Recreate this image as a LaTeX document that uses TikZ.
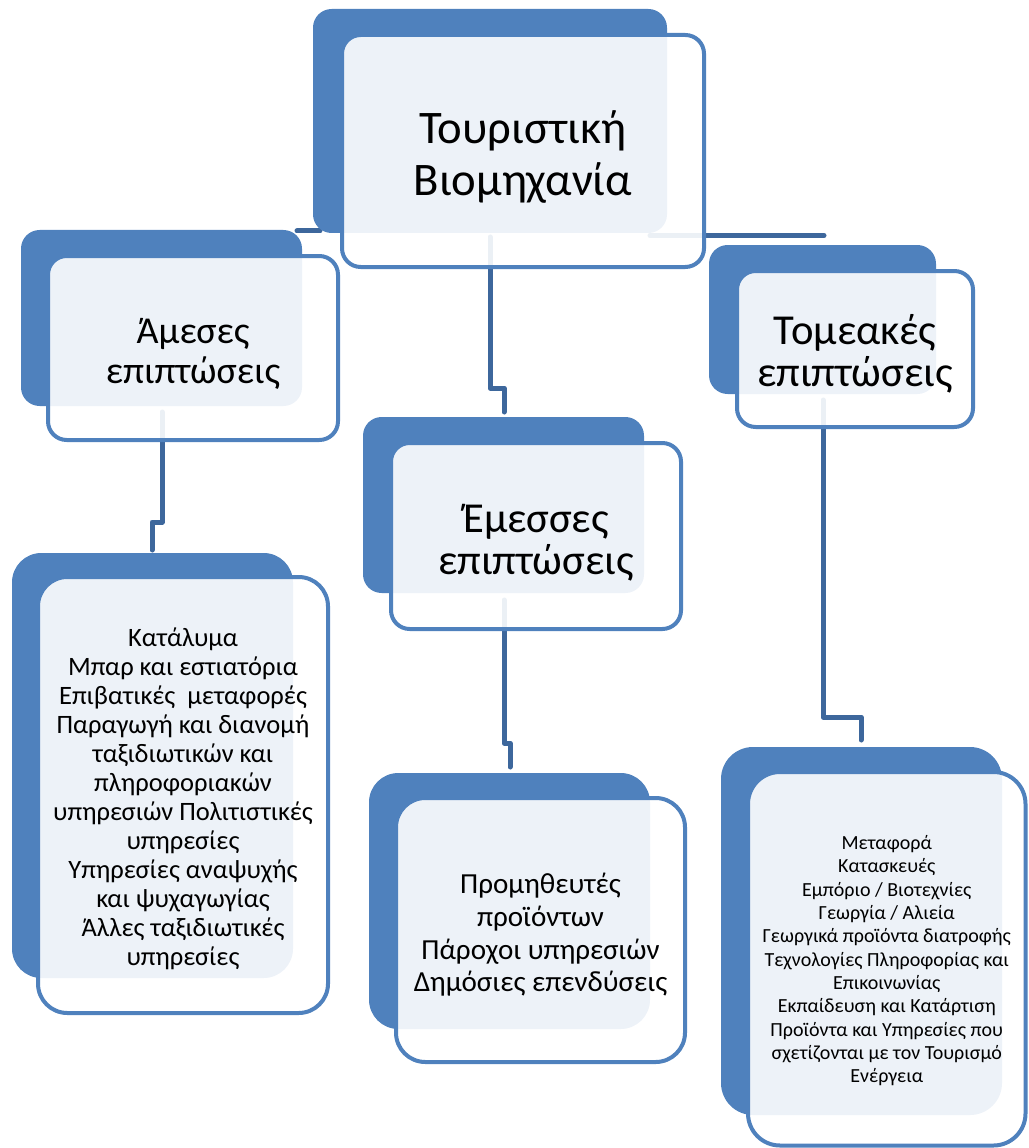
\documentclass[tikz,border=0pt]{standalone}
\usepackage{fontspec}
\setmainfont{Carlito}
\usetikzlibrary{fit}
\definecolor{boxblue}{RGB}{79,129,189}
\definecolor{linkblue}{RGB}{61,103,156}
\tikzset{
  x=0.75pt, y=-0.75pt,
  backbox/.style={rectangle, rounded corners=#1, fill=boxblue, draw=none, inner sep=0pt},
  frontbox/.style={rectangle, rounded corners=#1, fill=white, fill opacity=0.9,
    draw=boxblue, line width=3pt, inner sep=0pt},
  boxtext/.style={inner sep=0pt, align=center, text=black},
  link/.style={draw=linkblue, line width=3.75pt, line join=round, line cap=round},
}
\begin{document}
\begin{tikzpicture}
\useasboundingbox (0,0) rectangle (1028,1148);
% connector coordinates
\coordinate (topS) at (490,237);
\coordinate (topJ1) at (490,388);
\coordinate (topJ2) at (504,388);
\coordinate (eT) at (504,412);
\coordinate (topL) at (320,231);
\coordinate (aT) at (297,231);
\coordinate (topR) at (650,235.5);
\coordinate (tT) at (824,235.5);
\coordinate (aS) at (162,412);
\coordinate (aJ1) at (162,522);
\coordinate (aJ2) at (152,522);
\coordinate (blT) at (152,550);
\coordinate (eS) at (504,600);
\coordinate (eJ1) at (504,743);
\coordinate (eJ2) at (510,743);
\coordinate (bmT) at (510,767);
\coordinate (tS) at (823,400);
\coordinate (tJ1) at (823,717);
\coordinate (tJ2) at (861,717);
\coordinate (brT) at (861,740);
% connectors (behind boxes)
\draw[link] (topS) -- (topJ1) -- (topJ2) -- (eT);
\draw[link] (topL) -- (aT);
\draw[link] (topR) -- (tT);
\draw[link] (aS) -- (aJ1) -- (aJ2) -- (blT);
\draw[link] (eS) -- (eJ1) -- (eJ2) -- (bmT);
\draw[link] (tS) -- (tJ1) -- (tJ2) -- (brT);
% top box
\node (topB) [backbox=14pt, fit={(313,9) (667,233)}] {};
\node (topF) [frontbox=14pt, fit={(342,35) (704,267)}] {};
\node (topX) [boxtext, font=\fontsize{35pt}{39pt}\selectfont] at (topF.center) [yshift=-4.5pt]
  {Τουριστική\\ Βιομηχανία};
% Άμεσες
\node (aB) [backbox=14pt, fit={(21,230) (302,406)}] {};
\node (aF) [frontbox=14pt, fit={(48,256) (338,440)}] {};
\node (aX) [boxtext, font=\fontsize{28.5pt}{30pt}\selectfont] at (aF.center) [yshift=-4.5pt]
  {Άμεσες\\ επιπτώσεις};
% Έμεσσες
\node (eB) [backbox=14pt, fit={(363,417) (644,593)}] {};
\node (eF) [frontbox=14pt, fit={(391,443) (681,629)}] {};
\node (eX) [boxtext, font=\fontsize{32pt}{31.5pt}\selectfont] at (eF.center) [yshift=-5.25pt]
  {Έμεσσες\\ επιπτώσεις};
% Τομεακές
\node (tB) [backbox=14pt, fit={(709,245) (936,394)}] {};
\node (tF) [frontbox=14pt, fit={(737,271) (973,427)}] {};
\node (tX) [boxtext, font=\fontsize{32pt}{31.5pt}\selectfont] at (tF.center) [yshift=-3.75pt]
  {Τομεακές\\ επιπτώσεις};
% bottom left
\node (blB) [backbox=22pt, fit={(12,553) (293,978)}] {};
\node (blF) [frontbox=22pt, fit={(38,577) (328,1013)}] {};
\node (blX) [boxtext, font=\fontsize{19.9pt}{21.75pt}\selectfont] at (blF.center) [yshift=-3pt]
  {Κατάλυμα\\ Μπαρ και εστιατόρια\\ Επιβατικές\ \ μεταφορές\\ Παραγωγή και διανομή\\ ταξιδιωτικών και\\ πληροφοριακών\\ υπηρεσιών Πολιτιστικές\\ υπηρεσίες\\ Υπηρεσίες αναψυχής\\ και ψυχαγωγίας\\ Άλλες ταξιδιωτικές\\ υπηρεσίες};
% bottom middle
\node (bmB) [backbox=22pt, fit={(369,773) (650,1029)}] {};
\node (bmF) [frontbox=22pt, fit={(396,798) (685,1062)}] {};
\node (bmX) [boxtext, font=\fontsize{21.8pt}{24.5pt}\selectfont] at (bmF.center) [yshift=-3.75pt]
  {Προμηθευτές\\ προϊόντων\\ Πάροχοι υπηρεσιών\\ Δημόσιες επενδύσεις};
% bottom right
\node (brB) [backbox=24pt, fit={(721,747) (1002,1115)}] {};
\node (brF) [frontbox=24pt, fit={(748,772) (1025.5,1145.5)}] {};
\node (brX) [boxtext, font=\fontsize{15pt}{17.5pt}\selectfont] at (brF.center) [yshift=-1.5pt]
  {Μεταφορά\\ Κατασκευές\\ Εμπόριο / Βιοτεχνίες\\ Γεωργία / Αλιεία\\ Γεωργικά προϊόντα διατροφής\\ Τεχνολογίες Πληροφορίας και\\ Επικοινωνίας\\ Εκπαίδευση και Κατάρτιση\\ Προϊόντα και Υπηρεσίες που\\ σχετίζονται με τον Τουρισμό\\ Ενέργεια};
\end{tikzpicture}
\end{document}
